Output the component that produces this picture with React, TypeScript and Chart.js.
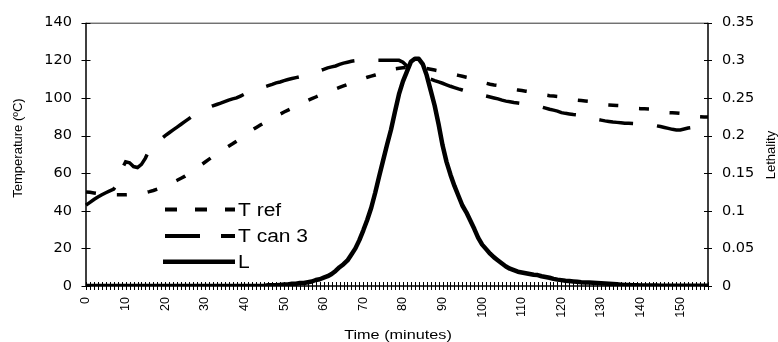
import React, { useEffect, useRef } from 'react';
import { Chart, registerables } from 'chart.js';
Chart.register(...registerables);

// time categories (minutes)
const minutes: number[] = [
  0,1,2,3,4,5,6,7,8,9,10,11,12,13,14,15,16,17,18,19,20,21,22,23,24,25,26,27,28,29,
  30,31,32,33,34,35,36,37,38,39,40,41,42,43,44,45,46,47,48,49,50,51,52,53,54,55,56,57,58,59,
  60,61,62,63,64,65,66,67,68,69,70,71,72,73,74,75,76,77,78,79,80,81,82,83,84,85,86,87,88,89,
  90,91,92,93,94,95,96,97,98,99,100,101,102,103,104,105,106,107,108,109,110,111,112,113,114,115,116,117,118,119,
  120,121,122,123,124,125,126,127,128,129,130,131,132,133,134,135,136,137,138,139,140,141,142,143,144,145,146,147,148,149,
  150,151,152,153,154,155,156,157,
];

const tRef: number[] = [
  50,49.8,49.5,49.2,49,48.8,48.6,48.5,48.5,48.5,
  48.5,48.6,48.8,49,49.3,49.7,50.2,50.8,51.5,52.3,
  53.2,54.2,55.2,56.2,57.3,58.4,59.8,61.3,62.8,64.3,
  65.8,67.3,68.8,70.2,71.7,73,74.3,75.6,77,78.5,
  80,81.5,83,84.3,85.6,86.8,88,89.2,90.3,91.4,
  92.5,93.5,94.5,95.5,96.6,97.7,98.7,99.6,100.5,101.4,
  102.3,103.2,104,104.8,105.6,106.4,107.2,108,108.8,109.5,
  110.3,111,111.6,112.2,112.8,113.4,114.2,115,115.5,115.8,
  116,116.2,116.3,116.4,116.3,116,115.6,115.2,114.8,114.4,
  114,113.5,113,112.5,112,111.5,111,110.6,110.2,109.2,
  108.3,107.8,107.3,106.9,106.6,106.3,106,105.3,104.5,104.2,
  103.9,103.6,103.3,103,102.3,101.8,101.5,101.2,101,100.8,
  100.6,100.1,99.5,99,98.8,98.6,98.4,98.2,98,97.3,
  96.6,96.3,96.2,96.1,96,95.9,95.7,95.1,94.6,94.4,
  94.3,94.2,94.1,94,93.5,92.8,92.3,92.2,92.1,92,
  91.8,91.6,90.8,90.3,90.1,90,89.9,89.8,
];

const tCan3: number[] = [
  43,44.5,46,47.3,48.5,49.6,50.6,51.5,55,62,
  66,65.5,63.5,63,64.7,68,72.5,75,76.8,78.3,
  80,81.5,83,84.5,86,87.5,89,90.5,91.8,93,
  94,95,95.8,96.5,97.2,98,98.8,99.5,100,101,
  102,103,103.8,104.3,105,105.8,106.5,107.2,108,108.5,
  109.2,109.8,110.3,110.8,111.3,112,112.5,113,113.8,114.5,
  115.2,116,116.5,117,117.8,118.5,119,119.5,119.8,120,
  120,120,120,120,120,120,120,120,120,120,
  119,117,115,113.5,112.5,111.8,111,110,109.2,108.5,
  107.8,107,106.2,105.5,104.8,104.2,103.6,103.2,102.8,102,
  101.5,101,100.5,100,99.5,98.8,98.3,98,97.6,97.3,
  97,96.9,96.7,96.2,95.7,95.2,94.6,94,93.5,93,
  92.2,91.8,91.5,91.2,91,90.7,90.4,89.8,89.2,88.6,
  88.2,87.8,87.5,87.2,87,86.8,86.6,86.5,86.4,86.3,
  86.2,86,85.8,85.5,85.2,84.8,84.3,83.8,83.3,83,
  83,83.5,84,84.3,84,83.5,83,82.7,
];

const lethality: number[] = [
  0,0,0,0,0,0,0,0,0,0,
  0,0,0,0,0,0,0,0,0,0,
  0,0,0,0,0,0,0,0,0,0,
  0,0,0,0,0,0,0,0,0,0,
  0,0,0,0,0,0,0.001,0.001,0.001,0.0015,
  0.002,0.002,0.003,0.003,0.004,0.004,0.005,0.006,0.008,0.009,
  0.011,0.013,0.016,0.02,0.025,0.029,0.034,0.042,0.05,0.061,
  0.074,0.088,0.104,0.124,0.146,0.167,0.188,0.208,0.232,0.255,
  0.272,0.285,0.298,0.302,0.302,0.295,0.28,0.26,0.24,0.215,
  0.187,0.165,0.148,0.133,0.12,0.107,0.098,0.087,0.076,0.064,
  0.055,0.049,0.043,0.038,0.034,0.03,0.026,0.023,0.021,0.019,
  0.018,0.017,0.016,0.015,0.0145,0.013,0.012,0.011,0.0095,0.0085,
  0.0078,0.007,0.0065,0.006,0.0055,0.005,0.0048,0.0045,0.0042,0.004,
  0.0038,0.0034,0.003,0.0026,0.0022,0.0018,0.0015,0.0013,0.0011,0.001,
  0.0008,0.0007,0.0006,0.0005,0.0005,0.0004,0.0004,0.0003,0.0003,0.0003,
  0.0002,0.0002,0.0002,0.0002,0.0002,0.0002,0.0002,0.0002,
];

const tempTicks: number[] = [0, 20, 40, 60, 80, 100, 120, 140];
const lethTicks: number[] = [0, 0.05, 0.1, 0.15, 0.2, 0.25, 0.3, 0.35];

const seriesNames = ['T ref', 'T can 3', 'L'];
const axisTitles = { temp: 'Temperature (ºC)', leth: 'Lethality', time: 'Time (minutes)' };

const dashRef = [10, 21];
const dashCan = [34, 24];

const decorPlugin = {
  id: 'decor',
  beforeDatasetsDraw(chart: any) {
    const { ctx, chartArea: a, scales } = chart;
    ctx.save();
    ctx.lineWidth = 1;
    ctx.strokeStyle = '#333';
    ctx.beginPath();
    ctx.moveTo(a.left, a.top + 0.5);
    ctx.lineTo(a.right, a.top + 0.5);
    ctx.stroke();
    ctx.strokeStyle = '#000';
    ctx.lineWidth = 1.5;
    ctx.beginPath();
    ctx.moveTo(a.left, a.top);
    ctx.lineTo(a.left, a.bottom);
    ctx.moveTo(a.right, a.top);
    ctx.lineTo(a.right, a.bottom);
    ctx.moveTo(a.left, a.bottom);
    ctx.lineTo(a.right, a.bottom);
    ctx.stroke();
    ctx.lineWidth = 1;
    ctx.beginPath();
    for (let i = 0; i < minutes.length; i++) {
      const x = Math.round(scales.x.getPixelForValue(i)) + 0.5;
      ctx.moveTo(x, a.bottom - 4);
      ctx.lineTo(x, a.bottom + 4);
    }
    for (const v of tempTicks) {
      const y = Math.round(scales.y.getPixelForValue(v)) + 0.5;
      ctx.moveTo(a.left - 4.5, y);
      ctx.lineTo(a.left + 4.5, y);
    }
    for (const v of lethTicks) {
      const y = Math.round(scales.y1.getPixelForValue(v)) + 0.5;
      ctx.moveTo(a.right - 4, y);
      ctx.lineTo(a.right + 4, y);
    }
    ctx.stroke();
    ctx.restore();
  },
  afterDraw(chart: any) {
    const { ctx } = chart;
    ctx.save();
    ctx.fillStyle = '#000';
    ctx.font = '13px "Liberation Sans"';
    ctx.textAlign = 'center';
    ctx.textBaseline = 'middle';
    ctx.save();
    ctx.translate(18, 148);
    ctx.rotate(-Math.PI / 2);
    ctx.fillText(axisTitles.temp, 0, 0);
    ctx.restore();
    ctx.save();
    ctx.translate(771, 155);
    ctx.rotate(-Math.PI / 2);
    ctx.fillText(axisTitles.leth, 0, 0);
    ctx.restore();
    ctx.save();
    ctx.translate(398, 339);
    ctx.scale(1.3, 1);
    ctx.font = '12.5px "Liberation Sans"';
    ctx.textBaseline = 'alphabetic';
    ctx.fillText(axisTitles.time, 0, 0);
    ctx.restore();

    const rows = [
      { y: 209.5, dash: [12, 18], w: 4, x0: 165 },
      { y: 236, dash: [35, 21], w: 4, x0: 165 },
      { y: 261.7, dash: [] as number[], w: 4.5, x0: 163 },
    ];
    rows.forEach((r, i) => {
      ctx.save();
      ctx.strokeStyle = '#000';
      ctx.lineWidth = r.w;
      ctx.lineCap = 'butt';
      ctx.setLineDash(r.dash);
      ctx.beginPath();
      ctx.moveTo(r.x0, r.y);
      ctx.lineTo(235, r.y);
      ctx.stroke();
      ctx.restore();
      ctx.save();
      ctx.translate(238, r.y + 6.3);
      ctx.scale(1.2, 1);
      ctx.font = '17.5px "Liberation Sans"';
      ctx.textAlign = 'left';
      ctx.textBaseline = 'alphabetic';
      ctx.fillText(seriesNames[i], 0, 0);
      ctx.restore();
    });
    ctx.restore();
  },
};

export default function App() {
  const ref = useRef<HTMLCanvasElement>(null);
  useEffect(() => {
    const chart = new Chart(ref.current as HTMLCanvasElement, {
      type: 'line',
      data: {
        labels: minutes.map(String),
        datasets: [
          {
            label: seriesNames[0], data: tRef, yAxisID: 'y', order: 3,
            borderColor: '#000', borderWidth: 3.5, borderDash: dashRef, borderCapStyle: 'butt',
            pointRadius: 0, fill: false, tension: 0,
          },
          {
            label: seriesNames[1], data: tCan3, yAxisID: 'y', order: 2,
            borderColor: '#000', borderWidth: 3.5, borderDash: dashCan, borderCapStyle: 'butt',
            pointRadius: 0, fill: false, tension: 0,
          },
          {
            label: seriesNames[2], data: lethality, yAxisID: 'y1', order: 1,
            borderColor: '#000', borderWidth: 4.5, borderJoinStyle: 'round',
            pointRadius: 0, fill: false, tension: 0,
          },
        ],
      },
      options: {
        animation: false,
        responsive: false,
        devicePixelRatio: 1,
        layout: { padding: { top: 20, left: 0, right: 0, bottom: 0 } },
        plugins: { legend: { display: false }, tooltip: { enabled: false }, title: { display: false } },
        scales: {
          x: {
            type: 'category',
            offset: false,
            grid: { display: false, drawTicks: false },
            border: { display: false },
            ticks: {
              autoSkip: false, minRotation: 90, maxRotation: 90, padding: 11,
              color: '#000', font: { family: 'Liberation Sans', size: 12.5 },
              callback: (_v: any, i: number) => (i % 10 === 0 ? String(minutes[i]) : ''),
            },
            afterFit: (s: any) => { s.height = 56; },
          },
          y: {
            position: 'left', min: 0, max: 140,
            grid: { display: false, drawTicks: false },
            border: { display: false },
            ticks: { stepSize: 20, padding: 14, color: '#000', font: { family: 'DejaVu Sans', size: 14.5 } },
            afterFit: (s: any) => { s.width = 86; },
          },
          y1: {
            position: 'right', min: 0, max: 0.35,
            grid: { display: false, drawTicks: false },
            border: { display: false },
            ticks: {
              stepSize: 0.05, padding: 14, color: '#000', font: { family: 'DejaVu Sans', size: 14.5 },
              callback: (v: any) => String(Number(Number(v).toFixed(2))),
            },
            afterFit: (s: any) => { s.width = 70; },
          },
        },
      } as any,
      plugins: [decorPlugin],
    });
    return () => chart.destroy();
  }, []);
  return (
    <canvas
      ref={ref}
      width={778}
      height={342}
      style={{ position: 'fixed', left: 0, top: 0, width: 778, height: 342, display: 'block', background: '#fff' }}
    />
  );
}
